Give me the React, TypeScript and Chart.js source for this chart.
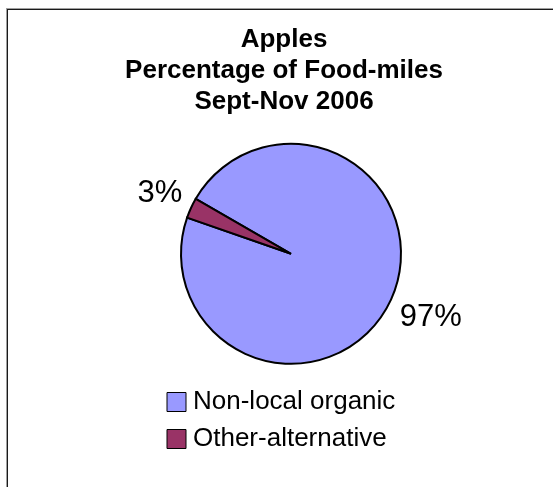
import React, { useEffect, useRef } from 'react';
import { Chart, registerables, layouts } from 'chart.js';

Chart.register(...registerables);

const titleLines = ['Apples', 'Percentage of Food-miles', 'Sept-Nov 2006'];
const categories = ['Non-local organic', 'Other-alternative'];
const values = [97, 3];
const sliceColors = ['#9999FF', '#993366'];

const FONT = "'Liberation Sans', Arial, Helvetica, sans-serif";

function makeSpacer(position: 'left' | 'right', size: number) {
  return {
    position,
    weight: 0,
    fullSize: false,
    options: {},
    left: 0,
    top: 0,
    right: 0,
    bottom: 0,
    width: size,
    height: 0,
    isHorizontal() {
      return false;
    },
    update(_w: number, h: number) {
      this.width = size;
      this.height = h;
    },
    draw() {},
  };
}

const spacerPlugin = {
  id: 'sideSpacers',
  beforeInit(chart: any) {
    layouts.addBox(chart, makeSpacer('left', 52) as any);
    layouts.addBox(chart, makeSpacer('right', 38) as any);
  },
};

const pctLabelPlugin = {
  id: 'pctLabels',
  afterDatasetsDraw(chart: any) {
    const ctx = chart.ctx;
    const meta = chart.getDatasetMeta(0);
    const data = chart.data.datasets[0].data as number[];
    const total = data.reduce((a, b) => a + b, 0);
    ctx.save();
    ctx.font = `31px ${FONT}`;
    ctx.fillStyle = '#000';
    ctx.textAlign = 'center';
    ctx.textBaseline = 'middle';
    meta.data.forEach((arc: any, i: number) => {
      const { x, y, startAngle, endAngle, outerRadius } = arc.getProps(
        ['x', 'y', 'startAngle', 'endAngle', 'outerRadius'],
        true
      );
      const mid = (startAngle + endAngle) / 2;
      const text = Math.round((data[i] / total) * 100) + '%';
      const w = ctx.measureText(text).width;
      const c = Math.cos(mid);
      const s = Math.sin(mid);
      const ex = Math.abs(c) > 1e-6 ? w / 2 / Math.abs(c) : Infinity;
      const ey = Math.abs(s) > 1e-6 ? 15 / Math.abs(s) : Infinity;
      const d = outerRadius + 9.5 + Math.min(ex, ey);
      ctx.fillText(text, x + c * d, y + s * d);
    });
    ctx.restore();
  },
};

export default function App() {
  const canvasRef = useRef<HTMLCanvasElement | null>(null);

  useEffect(() => {
    if (!canvasRef.current) return;
    const chart = new Chart(canvasRef.current, {
      type: 'pie',
      data: {
        labels: categories,
        datasets: [
          {
            data: values,
            backgroundColor: sliceColors,
            borderColor: '#000000',
            borderWidth: 2,
            borderJoinStyle: 'miter',
            hoverOffset: 0,
            offset: 0,
          } as any,
        ],
      },
      options: {
        animation: false,
        responsive: true,
        maintainAspectRatio: false,
        events: [],
        rotation: 300,
        radius: 110,
        layout: {
          padding: { top: 14, left: 110, right: 95, bottom: 25 },
        },
        plugins: {
          tooltip: { enabled: false },
          title: {
            display: true,
            text: titleLines,
            color: '#000',
            font: { family: FONT, size: 26, weight: 'bold', lineHeight: 1.2 },
            padding: { top: 10, bottom: 12 },
          },
          legend: {
            display: true,
            position: 'bottom',
            align: 'start',
            fullSize: false,
            labels: {
              color: '#000',
              font: { family: FONT, size: 26 },
              usePointStyle: true,
              pointStyle: 'rect',
              boxWidth: 7,
              boxHeight: 19,
              padding: 11,
              generateLabels: (c: any) =>
                (Chart as any).overrides.doughnut.plugins.legend.labels
                  .generateLabels(c)
                  .map((it: any) => ({ ...it, lineWidth: 1 })),
            },
          },
        },
      } as any,
      plugins: [spacerPlugin, pctLabelPlugin],
    });
    return () => chart.destroy();
  }, []);

  return (
    <div
      style={{
        position: 'fixed',
        left: 0,
        top: 0,
        width: 553,
        height: 487,
        overflow: 'hidden',
        background: '#fff',
      }}
    >
      <div
        style={{
          position: 'absolute',
          left: 7,
          top: 9,
          width: 600,
          height: 600,
          border: '1px solid #1a1a1a',
          boxShadow: '-1px -1px 0 #a0a0a0',
        }}
      />
      <div style={{ position: 'absolute', left: 0, top: 0, width: 553, height: 487 }}>
        <canvas ref={canvasRef} />
      </div>
    </div>
  );
}
